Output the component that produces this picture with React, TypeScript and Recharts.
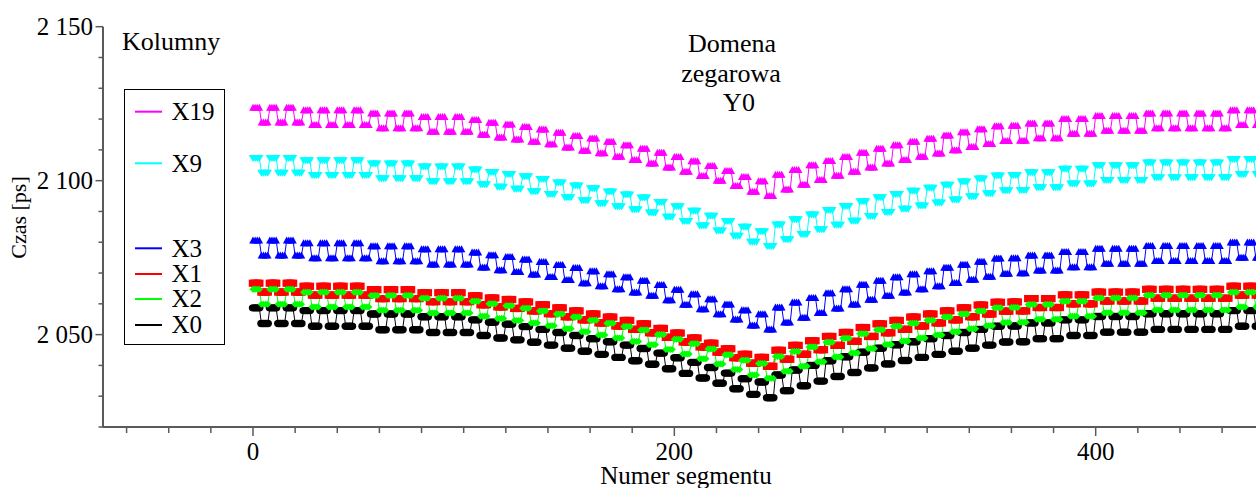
import { LineChart, Line, XAxis, YAxis, Legend } from 'recharts';

// segment numbers run in blocks of 4: high block, then low block (period = 8 segments)
const BLOCK = 4;

// levels per period (8 segments) [ps]
const x19Hi = [
  2123.7, 2123.7, 2123.7, 2122.9, 2122.9, 2122.9, 2122.9, 2121.8, 2121.8, 2121.8,
  2120.7, 2120.7, 2120.7, 2119.7, 2118.8, 2118.2, 2117.4, 2116.6, 2115.6, 2114.5,
  2113.7, 2112.6, 2111.5, 2110.4, 2109.1, 2107.7, 2106.3, 2104.8, 2103.1, 2101.2,
  2099.8, 2101.9, 2103.5, 2105.0, 2106.4, 2107.7, 2109.1, 2110.4, 2111.5, 2112.6,
  2113.6, 2114.7, 2115.7, 2116.7, 2117.7, 2117.8, 2118.6, 2118.6, 2120.0, 2120.0,
  2121.0, 2121.0, 2121.0, 2121.8, 2121.8, 2121.8, 2121.8, 2121.8, 2122.9, 2122.9,
];
const x19Lo = [
  2118.9, 2118.9, 2118.9, 2118.1, 2118.1, 2118.1, 2118.1, 2117.0, 2117.0, 2117.0,
  2115.9, 2115.9, 2115.9, 2114.9, 2114.0, 2113.4, 2112.6, 2111.8, 2110.8, 2109.7,
  2108.9, 2107.8, 2106.7, 2105.6, 2104.3, 2102.9, 2101.5, 2100.0, 2098.3, 2096.4,
  2095.0, 2097.1, 2098.7, 2100.2, 2101.6, 2102.9, 2104.3, 2105.6, 2106.7, 2107.8,
  2108.8, 2109.9, 2110.9, 2111.9, 2112.9, 2113.0, 2113.8, 2113.8, 2115.2, 2115.2,
  2116.2, 2116.2, 2116.2, 2117.0, 2117.0, 2117.0, 2117.0, 2117.0, 2118.1, 2118.1,
];
const x9Hi = [
  2107.4, 2107.4, 2107.4, 2106.6, 2106.6, 2106.6, 2106.6, 2105.6, 2105.6, 2105.6,
  2104.6, 2104.6, 2104.6, 2103.6, 2102.8, 2102.2, 2101.4, 2100.5, 2099.4, 2098.4,
  2097.5, 2096.5, 2095.5, 2094.5, 2093.1, 2091.7, 2090.2, 2088.6, 2086.9, 2085.0,
  2083.6, 2085.8, 2087.5, 2089.0, 2090.5, 2091.8, 2093.3, 2094.6, 2095.7, 2096.7,
  2097.7, 2098.7, 2099.7, 2100.7, 2101.7, 2101.8, 2102.7, 2102.7, 2103.9, 2103.9,
  2105.0, 2105.0, 2105.0, 2105.9, 2105.9, 2105.9, 2105.9, 2105.9, 2107.0, 2107.0,
];
const x9Lo = [
  2102.6, 2102.6, 2102.6, 2101.8, 2101.8, 2101.8, 2101.8, 2100.8, 2100.8, 2100.8,
  2099.8, 2099.8, 2099.8, 2098.8, 2098.0, 2097.4, 2096.6, 2095.7, 2094.6, 2093.6,
  2092.7, 2091.7, 2090.7, 2089.7, 2088.3, 2086.9, 2085.4, 2083.8, 2082.1, 2080.2,
  2078.8, 2081.0, 2082.7, 2084.2, 2085.7, 2087.0, 2088.5, 2089.8, 2090.9, 2091.9,
  2092.9, 2093.9, 2094.9, 2095.9, 2096.9, 2097.0, 2097.9, 2097.9, 2099.1, 2099.1,
  2100.2, 2100.2, 2100.2, 2101.1, 2101.1, 2101.1, 2101.1, 2101.1, 2102.2, 2102.2,
];
const x3Hi = [
  2080.6, 2080.6, 2080.6, 2079.7, 2079.7, 2079.7, 2079.7, 2078.7, 2078.7, 2078.7,
  2077.7, 2077.7, 2077.7, 2076.7, 2075.8, 2075.2, 2074.4, 2073.6, 2072.6, 2071.6,
  2070.6, 2069.6, 2068.6, 2067.5, 2066.1, 2064.6, 2063.1, 2061.5, 2059.8, 2057.9,
  2056.6, 2058.8, 2060.4, 2061.9, 2063.4, 2064.7, 2066.2, 2067.5, 2068.6, 2069.6,
  2070.6, 2071.7, 2072.7, 2073.7, 2074.7, 2074.8, 2075.7, 2075.7, 2076.8, 2076.8,
  2077.9, 2077.9, 2077.9, 2078.8, 2078.8, 2078.8, 2078.8, 2078.8, 2079.9, 2079.9,
];
const x3Lo = [
  2075.7, 2075.7, 2075.7, 2074.8, 2074.8, 2074.8, 2074.8, 2073.8, 2073.8, 2073.8,
  2072.8, 2072.8, 2072.8, 2071.8, 2070.9, 2070.3, 2069.5, 2068.7, 2067.7, 2066.7,
  2065.7, 2064.7, 2063.7, 2062.6, 2061.2, 2059.7, 2058.2, 2056.6, 2054.9, 2053.0,
  2051.7, 2053.9, 2055.5, 2057.0, 2058.5, 2059.8, 2061.3, 2062.6, 2063.7, 2064.7,
  2065.7, 2066.8, 2067.8, 2068.8, 2069.8, 2069.9, 2070.8, 2070.8, 2071.9, 2071.9,
  2073.0, 2073.0, 2073.0, 2073.9, 2073.9, 2073.9, 2073.9, 2073.9, 2075.0, 2075.0,
];
const x1Hi = [
  2066.7, 2066.7, 2066.7, 2065.7, 2065.7, 2065.7, 2065.7, 2064.6, 2064.6, 2064.6,
  2063.6, 2063.6, 2063.6, 2062.6, 2061.9, 2061.4, 2060.6, 2059.7, 2058.7, 2057.7,
  2056.7, 2055.7, 2054.6, 2053.5, 2052.0, 2050.5, 2048.9, 2047.2, 2045.4, 2043.6,
  2042.6, 2044.9, 2046.5, 2048.0, 2049.4, 2050.7, 2052.3, 2053.5, 2054.6, 2055.7,
  2056.7, 2057.7, 2058.7, 2059.6, 2060.5, 2060.6, 2061.7, 2061.7, 2062.9, 2062.9,
  2063.8, 2063.8, 2063.8, 2064.7, 2064.7, 2064.7, 2064.7, 2064.7, 2065.7, 2065.7,
];
const x1Lo = [
  2063.8, 2063.8, 2063.8, 2062.8, 2062.8, 2062.8, 2062.8, 2061.7, 2061.7, 2061.7,
  2060.7, 2060.7, 2060.7, 2059.7, 2059.0, 2058.5, 2057.7, 2056.8, 2055.8, 2054.8,
  2053.8, 2052.8, 2051.7, 2050.6, 2049.1, 2047.6, 2046.0, 2044.3, 2042.5, 2040.7,
  2039.7, 2042.0, 2043.6, 2045.1, 2046.5, 2047.8, 2049.4, 2050.6, 2051.7, 2052.8,
  2053.8, 2054.8, 2055.8, 2056.7, 2057.6, 2057.7, 2058.8, 2058.8, 2060.0, 2060.0,
  2060.9, 2060.9, 2060.9, 2061.8, 2061.8, 2061.8, 2061.8, 2061.8, 2062.8, 2062.8,
];
const x2Hi = [
  2064.7, 2064.7, 2064.7, 2063.8, 2063.8, 2063.8, 2063.8, 2062.7, 2062.7, 2062.7,
  2061.8, 2061.8, 2061.8, 2060.8, 2060.0, 2059.4, 2058.6, 2057.7, 2056.7, 2055.7,
  2054.7, 2053.7, 2052.6, 2051.5, 2050.0, 2048.5, 2047.0, 2045.3, 2043.5, 2041.7,
  2040.6, 2042.9, 2044.5, 2046.0, 2047.5, 2048.8, 2050.3, 2051.6, 2052.7, 2053.7,
  2054.7, 2055.7, 2056.7, 2057.7, 2058.7, 2058.8, 2059.8, 2059.8, 2060.8, 2060.8,
  2061.9, 2061.9, 2061.9, 2062.8, 2062.8, 2062.8, 2062.8, 2062.8, 2063.8, 2063.8,
];
const x2Lo = [
  2059.9, 2059.9, 2059.9, 2059.0, 2059.0, 2059.0, 2059.0, 2057.9, 2057.9, 2057.9,
  2057.0, 2057.0, 2057.0, 2056.0, 2055.2, 2054.6, 2053.8, 2052.9, 2051.9, 2050.9,
  2049.9, 2048.9, 2047.8, 2046.7, 2045.2, 2043.7, 2042.2, 2040.5, 2038.7, 2036.9,
  2035.8, 2038.1, 2039.7, 2041.2, 2042.7, 2044.0, 2045.5, 2046.8, 2047.9, 2048.9,
  2049.9, 2050.9, 2051.9, 2052.9, 2053.9, 2054.0, 2055.0, 2055.0, 2056.0, 2056.0,
  2057.1, 2057.1, 2057.1, 2058.0, 2058.0, 2058.0, 2058.0, 2058.0, 2059.0, 2059.0,
];
const x0Hi = [
  2058.7, 2058.7, 2058.7, 2057.8, 2057.8, 2057.8, 2057.8, 2056.7, 2056.7, 2056.7,
  2055.8, 2055.8, 2055.8, 2054.8, 2054.0, 2053.4, 2052.6, 2051.7, 2050.7, 2049.7,
  2048.7, 2047.7, 2046.6, 2045.5, 2044.0, 2042.5, 2041.0, 2039.3, 2037.5, 2035.7,
  2034.6, 2036.9, 2038.5, 2040.0, 2041.5, 2042.8, 2044.3, 2045.6, 2046.7, 2047.7,
  2048.7, 2049.7, 2050.7, 2051.7, 2052.7, 2052.8, 2053.8, 2053.8, 2054.8, 2054.8,
  2055.9, 2055.9, 2055.9, 2056.8, 2056.8, 2056.8, 2056.8, 2056.8, 2057.8, 2057.8,
];
const x0Lo = [
  2053.6, 2053.6, 2053.6, 2052.7, 2052.7, 2052.7, 2052.7, 2051.6, 2051.6, 2051.6,
  2050.7, 2050.7, 2050.7, 2049.7, 2048.9, 2048.3, 2047.5, 2046.6, 2045.6, 2044.6,
  2043.6, 2042.6, 2041.5, 2040.4, 2038.9, 2037.4, 2035.9, 2034.2, 2032.4, 2030.6,
  2029.5, 2031.8, 2033.4, 2034.9, 2036.4, 2037.7, 2039.2, 2040.5, 2041.6, 2042.6,
  2043.6, 2044.6, 2045.6, 2046.6, 2047.6, 2047.7, 2048.7, 2048.7, 2049.7, 2049.7,
  2050.8, 2050.8, 2050.8, 2051.7, 2051.7, 2051.7, 2051.7, 2051.7, 2052.7, 2052.7,
];

const xTicks = [-60, -40, -20, 0, 20, 40, 60, 80, 100, 120, 140, 160, 180, 200, 220, 240, 260, 280, 300, 320, 340, 360, 380, 400, 420, 440, 460];
const yTicks = [2020, 2030, 2040, 2050, 2060, 2070, 2080, 2090, 2100, 2110, 2120, 2130, 2140, 2150];

// drawing order (black first, magenta last)
const SERIES = [
  { key: 'x0', name: 'X0', color: '#000000', shape: 'circle', hi: x0Hi, lo: x0Lo },
  { key: 'x1', name: 'X1', color: '#ff0000', shape: 'square', hi: x1Hi, lo: x1Lo },
  { key: 'x2', name: 'X2', color: '#00ff00', shape: 'diamond', hi: x2Hi, lo: x2Lo },
  { key: 'x3', name: 'X3', color: '#0000ff', shape: 'triUp', hi: x3Hi, lo: x3Lo },
  { key: 'x9', name: 'X9', color: '#00ffff', shape: 'triDown', hi: x9Hi, lo: x9Lo },
  { key: 'x19', name: 'X19', color: '#ff00ff', shape: 'triUp', hi: x19Hi, lo: x19Lo },
];

const LEGEND_ORDER = ['X19', 'X9', 'X3', 'X1', 'X2', 'X0'];
const LEGEND_ROW_Y: Record<string, number> = { X19: 22.7, X9: 74.3, X3: 159.3, X1: 185, X2: 210, X0: 236 };

const data: Record<string, number>[] = [];
for (let p = 0; p < x19Hi.length; p++) {
  for (let j = 0; j < BLOCK * 2; j++) {
    const row: Record<string, number> = { seg: p * BLOCK * 2 + j };
    SERIES.forEach((s) => {
      row[s.key] = j < BLOCK ? s.hi[p] : s.lo[p];
    });
    data.push(row);
  }
}

const FONT = "'Liberation Serif', 'DejaVu Serif', serif";
const AXIS = '#5a5a5a';
const txt = (size: number) => ({ fontFamily: FONT, fontSize: size });

const makeDot = (shape: string, color: string) => (props: any) => {
  const { cx, cy, index } = props;
  const k = `d-${index}`;
  if (cx == null || cy == null) return <g key={k} />;
  if (shape === 'circle') return <ellipse key={k} cx={cx} cy={cy} rx={4.2} ry={3.7} fill={color} />;
  if (shape === 'square') return <rect key={k} x={cx - 4.2} y={cy - 3.6} width={8.4} height={7.2} fill={color} />;
  if (shape === 'diamond')
    return <polygon key={k} points={`${cx - 3.6},${cy} ${cx},${cy - 3.5} ${cx + 3.6},${cy} ${cx},${cy + 3.5}`} fill={color} />;
  if (shape === 'triDown')
    return <polygon key={k} points={`${cx - 4.2},${cy - 3} ${cx + 4.2},${cy - 3} ${cx},${cy + 4}`} fill={color} />;
  return <polygon key={k} points={`${cx},${cy - 4} ${cx + 3.8},${cy + 3} ${cx - 3.8},${cy + 3}`} fill={color} />;
};

const XTick = (props: any) => {
  const { x, y, payload } = props;
  const major = payload.value % 200 === 0;
  return (
    <g>
      <line x1={x} y1={y} x2={x} y2={y + (major ? 9 : 6)} stroke={AXIS} strokeWidth={1.5} />
      {major && (
        <text x={x} y={y + 32.5} textAnchor="middle" style={txt(25)} fill="#000">
          {payload.value}
        </text>
      )}
    </g>
  );
};

const fmtY = (v: number) => `${Math.floor(v / 1000)} ${String(v % 1000).padStart(3, '0')}`;

const YTick = (props: any) => {
  const { x, y, payload } = props;
  const major = payload.value % 50 === 0;
  return (
    <g>
      <line x1={x - (major ? 7.5 : 4.5)} y1={y} x2={x} y2={y} stroke={AXIS} strokeWidth={1.5} />
      {major && (
        <text x={x - 10} y={y + 8.3} textAnchor="end" style={txt(25)} fill="#000">
          {fmtY(payload.value)}
        </text>
      )}
    </g>
  );
};

const renderLegend = (props: any) => {
  const items = props.payload || [];
  return (
    <svg width={101} height={256} style={{ display: 'block' }}>
      <rect x={0.5} y={0.5} width={100} height={255} fill="#fff" stroke="#000" strokeWidth={1} />
      {LEGEND_ORDER.map((name) => {
        const it = items.find((p: any) => p.value === name);
        if (!it) return null;
        const y = LEGEND_ROW_Y[name];
        return (
          <g key={name}>
            <line x1={11} y1={y} x2={38} y2={y} stroke={it.color} strokeWidth={2} />
            <text x={47.5} y={y + 8.3} style={txt(25)} fill="#000">
              {name}
            </text>
          </g>
        );
      })}
    </svg>
  );
};

export default function App() {
  return (
    <div style={{ position: 'absolute', left: 0, top: 0, width: 1256, height: 488, background: '#fff', overflow: 'hidden', fontFamily: FONT }}>
      <LineChart width={1256} height={488} data={data} margin={{ top: 26.7, right: 0, bottom: 0, left: 0 }}>
        <XAxis
          dataKey="seg"
          type="number"
          domain={[-71.2, 476.1]}
          allowDataOverflow
          ticks={xTicks}
          interval={0}
          tickSize={0}
          tickMargin={0}
          tickLine={false}
          tick={<XTick />}
          height={61}
          axisLine={{ stroke: AXIS, strokeWidth: 2 }}
        />
        <YAxis
          type="number"
          domain={[2020, 2150]}
          allowDataOverflow
          ticks={yTicks}
          interval={0}
          tickSize={0}
          tickMargin={0}
          tickLine={false}
          tick={<YTick />}
          width={103}
          axisLine={{ stroke: AXIS, strokeWidth: 2 }}
        />
        <Legend
          layout="vertical"
          align="center"
          verticalAlign="middle"
          content={renderLegend}
          wrapperStyle={{ position: 'absolute', left: 124, top: 89, width: 101, height: 256 }}
        />
        {SERIES.map((s) => (
          <Line
            key={s.key}
            dataKey={s.key}
            name={s.name}
            stroke={s.color}
            strokeWidth={1}
            dot={makeDot(s.shape, s.color)}
            activeDot={false}
            isAnimationActive={false}
          />
        ))}
      </LineChart>
      <svg width={1256} height={488} style={{ position: 'absolute', left: 0, top: 0, pointerEvents: 'none' }}>
        <text x={122} y={50} style={txt(26)} fill="#000">Kolumny</text>
        <text x={732} y={52} textAnchor="middle" style={txt(26)} fill="#000">Domena</text>
        <text x={731} y={81.5} textAnchor="middle" style={txt(26)} fill="#000">zegarowa</text>
        <text x={739} y={111} textAnchor="middle" style={txt(26)} fill="#000">Y0</text>
        <text x={686} y={484} textAnchor="middle" style={txt(25)} fill="#000">Numer segmentu</text>
        <text x={26.3} y={217.5} textAnchor="middle" transform="rotate(-90 26.3 217.5)" style={txt(22)} fill="#000">
          Czas [ps]
        </text>
      </svg>
    </div>
  );
}
